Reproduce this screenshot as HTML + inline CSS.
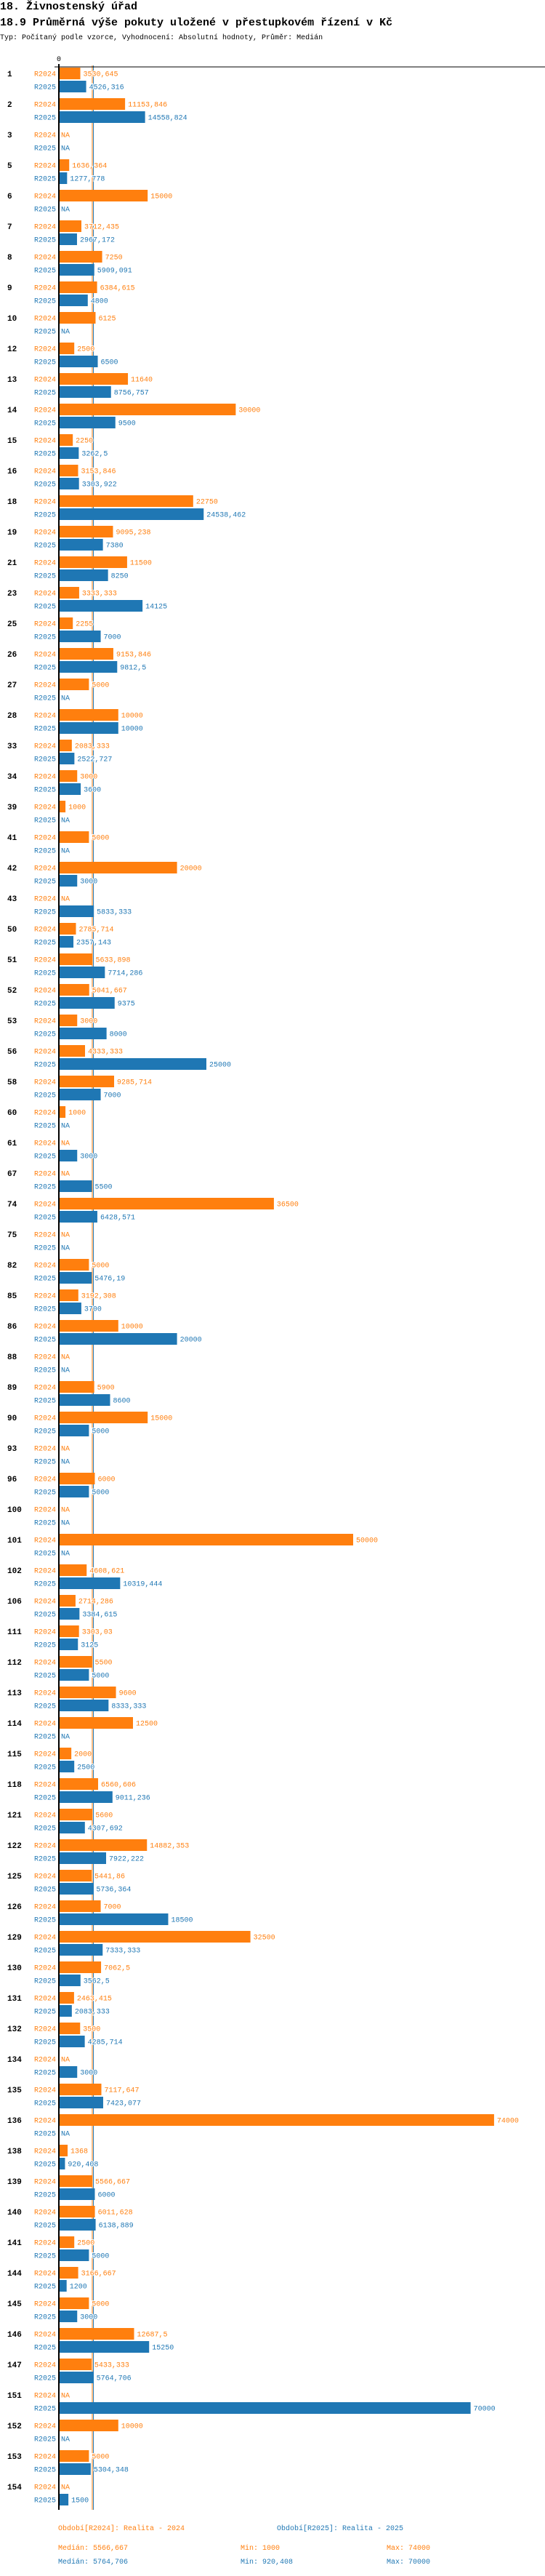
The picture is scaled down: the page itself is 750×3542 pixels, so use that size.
<!DOCTYPE html>
<html><head><meta charset="utf-8">
<style>
html,body{margin:0;padding:0;background:#fff;}
body{width:750px;height:3542px;overflow:hidden;font-family:"Liberation Mono",monospace;}
svg{display:block;}
.lbl{paint-order:stroke;stroke:#fff;stroke-width:2px;}
</style></head>
<body>
<svg id="chart" width="750" height="3542" xmlns="http://www.w3.org/2000/svg" font-family="Liberation Mono, monospace">
  <text x="0" y="13" font-size="15" font-weight="bold" fill="#000">18. Živnostenský úřad</text>
  <text x="0" y="35" font-size="15" font-weight="bold" fill="#000">18.9 Průměrná výše pokuty uložené v přestupkovém řízení v Kč</text>
  <text x="0" y="54" font-size="10" fill="#000">Typ: Počítaný podle vzorce, Vyhodnocení: Absolutní hodnoty, Průměr: Medián</text>
  <g id="plot"></g>
  <text x="80" y="3479" font-size="10" fill="#ff7f0e">Období[R2024]: Realita - 2024</text>
  <text x="381" y="3479" font-size="10" fill="#1f77b4">Období[R2025]: Realita - 2025</text>
  <text x="80" y="3506" font-size="10" fill="#ff7f0e">Medián: 5566,667</text>
  <text x="331" y="3506" font-size="10" fill="#ff7f0e">Min: 1000</text>
  <text x="532" y="3506" font-size="10" fill="#ff7f0e">Max: 74000</text>
  <text x="80" y="3525" font-size="10" fill="#1f77b4">Medián: 5764,706</text>
  <text x="331" y="3525" font-size="10" fill="#1f77b4">Min: 920,408</text>
  <text x="532" y="3525" font-size="10" fill="#1f77b4">Max: 70000</text>
</svg>
<script>
const categories = ["1","2","3","5","6","7","8","9","10","12","13","14","15","16","18","19","21","23","25","26","27","28","33","34","39","41","42","43","50","51","52","53","56","58","60","61","67","74","75","82","85","86","88","89","90","93","96","100","101","102","106","111","112","113","114","115","118","121","122","125","126","129","130","131","132","134","135","136","138","139","140","141","144","145","146","147","151","152","153","154"];
const values2024 = [3530.645,11153.846,null,1636.364,15000,3712.435,7250,6384.615,6125,2500,11640,30000,2250,3153.846,22750,9095.238,11500,3333.333,2255,9153.846,5000,10000,2083.333,3000,1000,5000,20000,null,2785.714,5633.898,5041.667,3000,4333.333,9285.714,1000,null,null,36500,null,5000,3192.308,10000,null,5900,15000,null,6000,null,50000,4608.621,2714.286,3303.03,5500,9600,12500,2000,6560.606,5600,14882.353,5441.86,7000,32500,7062.5,2463.415,3500,null,7117.647,74000,1368,5566.667,6011.628,2500,3166.667,5000,12687.5,5433.333,null,10000,5000,null];
const values2025 = [4526.316,14558.824,null,1277.778,null,2967.172,5909.091,4800,null,6500,8756.757,9500,3262.5,3303.922,24538.462,7380,8250,14125,7000,9812.5,null,10000,2522.727,3600,null,null,3000,5833.333,2357.143,7714.286,9375,8000,25000,7000,null,3000,5500,6428.571,null,5476.19,3700,20000,null,8600,5000,null,5000,null,null,10319.444,3384.615,3125,5000,8333.333,null,2500,9011.236,4307.692,7922.222,5736.364,18500,7333.333,3562.5,2083.333,4285.714,3000,7423.077,null,920.408,6000,6138.889,5000,1200,3000,15250,5764.706,70000,null,5304.348,1500];
const medians = [5566.667, 5764.706];
const seriesNames = ["R2024","R2025"];
const colors = ["#ff7f0e","#1f77b4"];

const NS = "http://www.w3.org/2000/svg";
const plot = document.getElementById("plot");
const X0 = 82, K = 0.00808;
const xScale = v => X0 + v * K;
const groupTop = i => 93 + 42 * i;
const fmt = v => (Math.round(v * 1000) / 1000).toString().replace(".", ",");
function mk(tag, attrs) {
  const e = document.createElementNS(NS, tag);
  for (const k in attrs) e.setAttribute(k, attrs[k]);
  plot.appendChild(e);
  return e;
}
const bottom = groupTop(categories.length - 1) + 40;

medians.forEach((m, s) => {
  const l = mk("line", {x1: xScale(m), x2: xScale(m), y1: 90, y2: bottom, stroke: colors[s], "stroke-width": 1});
  
  
});

const ax = mk("line", {x1: 75, x2: 750, y1: 92, y2: 92, stroke: "#000", "stroke-width": 1});


const ay = mk("line", {x1: 81, x2: 81, y1: 88, y2: bottom, stroke: "#000", "stroke-width": 2});


const t0 = mk("text", {x: 81, y: 84, "font-size": 10, "text-anchor": "middle", fill: "#000"});
t0.textContent = "0";



categories.forEach((c, i) => {
  const top = groupTop(i);
  const g = mk("text", {x: 10, y: top + 12, "font-size": 11, "font-weight": "bold", fill: "#000"});
  g.textContent = c;
  
  
  [values2024, values2025].forEach((arr, s) => {
    const y = top + s * 18;
    const v = arr[i];
    const lab = mk("text", {x: 77, y: y + 11.5, "font-size": 10, "text-anchor": "end", fill: colors[s]});
    lab.textContent = seriesNames[s];
    
    
    if (v === null) {
      const na = mk("text", {x: 84, y: y + 11.5, "font-size": 10, fill: colors[s]});
      na.textContent = "NA";
      
      
      return;
    }
    const w = xScale(v) - X0;
    const r = mk("rect", {x: X0, y: y, width: w, height: 16, fill: colors[s]});
    
    
    const vl = mk("text", {x: X0 + w + 4, y: y + 11.5, "font-size": 10, fill: colors[s], "class": "lbl"});
    vl.textContent = fmt(v);
    
    
  });
});
</script>
</body></html>
